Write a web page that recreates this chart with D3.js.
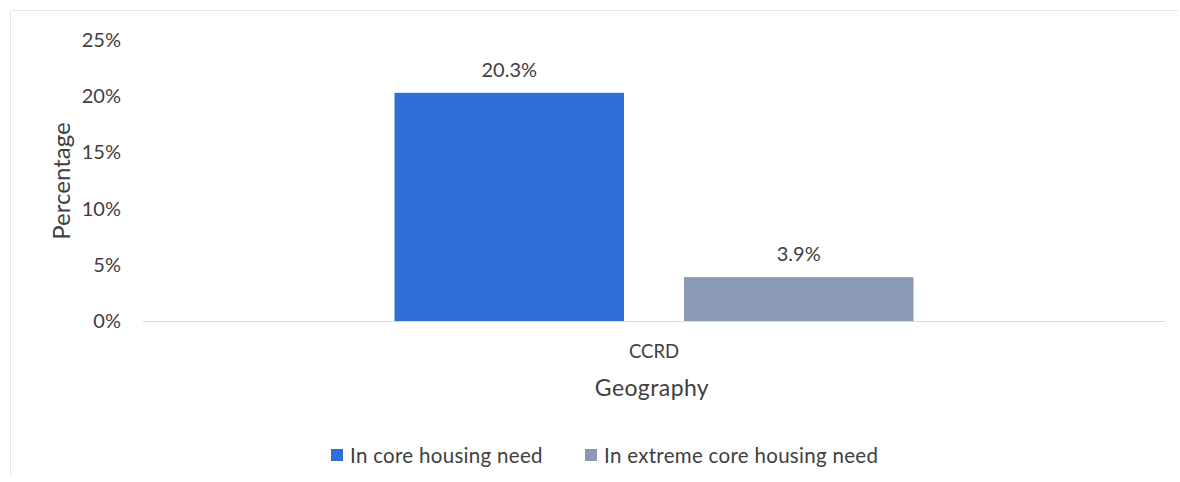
<!DOCTYPE html>
<html>
<head>
<meta charset="utf-8">
<script src="https://cdn.jsdelivr.net/npm/d3@7"></script>
<style>
  html, body { margin: 0; padding: 0; background: #fff; }
  svg { display: block; }
  text { font-family: Lato, "Open Sans", sans-serif; fill: #404040; }
</style>
</head>
<body>
<svg id="chart" width="1180" height="482"></svg>
<script>
// Chart data
const categories = ["CCRD"];
const seriesNames = ["In core housing need", "In extreme core housing need"];
const seriesValues = [[20.3], [3.9]];   // percent, one value per category
const seriesColors = ["#2f6fd9", "#8a9ab4"];
const yTicks = [0, 5, 10, 15, 20, 25];

const svg = d3.select("#chart");

// Faint outer frame
svg.append("path")
  .attr("d", "M10.5,476 V10.5 H1178")
  .attr("fill", "none")
  .attr("stroke", "#e6e6e6")
  .attr("stroke-width", 1);

const plotLeft = 143, plotRight = 1165, plotTop = 40, plotBottom = 321;

const x = d3.scaleBand()
  .domain(categories)
  .range([plotLeft, plotRight])
  .paddingInner(0)
  .paddingOuter(0.4846);

const xs = d3.scaleBand()
  .domain(seriesNames)
  .range([0, x.bandwidth()])
  .paddingInner(0.2073)
  .paddingOuter(0);

const y = d3.scaleLinear()
  .domain([0, 25])
  .range([plotBottom, plotTop]);

// Y axis labels (no line, no tick marks)
const yAxis = svg.append("g")
  .attr("transform", `translate(${plotLeft - 22},0)`)
  .call(d3.axisLeft(y).tickValues(yTicks).tickFormat(d => d + "%").tickSize(0).tickPadding(0));
yAxis.select(".domain").remove();
yAxis.selectAll("text")
  .attr("font-size", 20)
  .attr("font-family", "Lato, 'Open Sans', sans-serif")
  .attr("fill", "#404040");

// Baseline
svg.append("line")
  .attr("x1", plotLeft).attr("x2", plotRight)
  .attr("y1", y(0) + 0.5).attr("y2", y(0) + 0.5)
  .attr("stroke", "#d9d9d9")
  .attr("stroke-width", 1);

// Bars
const groups = svg.selectAll("g.cat")
  .data(categories)
  .join("g")
  .attr("class", "cat")
  .attr("transform", d => `translate(${x(d)},0)`);

seriesNames.forEach((name, si) => {
  groups.append("rect")
    .attr("x", xs(name))
    .attr("width", xs.bandwidth())
    .attr("y", (d, ci) => y(seriesValues[si][ci]))
    .attr("height", (d, ci) => y(0) - y(seriesValues[si][ci]))
    .attr("fill", seriesColors[si]);

  groups.append("text")
    .attr("x", xs(name) + xs.bandwidth() / 2)
    .attr("y", (d, ci) => y(seriesValues[si][ci]) - 16)
    .attr("text-anchor", "middle")
    .attr("font-size", 20)
    .text((d, ci) => seriesValues[si][ci].toFixed(1) + "%");
});

// Category label
svg.selectAll("text.cat-label")
  .data(categories)
  .join("text")
  .attr("class", "cat-label")
  .attr("x", d => x(d) + x.bandwidth() / 2)
  .attr("y", 358)
  .attr("text-anchor", "middle")
  .attr("font-size", 18.5)
  .text(d => d);

// Axis titles
svg.append("text")
  .attr("x", 652).attr("y", 396)
  .attr("text-anchor", "middle")
  .attr("font-size", 23)
  .attr("letter-spacing", 0.4)
  .text("Geography");

svg.append("text")
  .attr("transform", "translate(70,181) rotate(-90)")
  .attr("text-anchor", "middle")
  .attr("font-size", 24)
  .text("Percentage");

// Legend
const legendX = [331, 585];
seriesNames.forEach((name, i) => {
  const g = svg.append("g").attr("transform", `translate(${legendX[i]},449)`);
  g.append("rect").attr("width", 12).attr("height", 12).attr("fill", seriesColors[i]);
  g.append("text").attr("x", 19).attr("y", 14).attr("font-size", 20.5)
    .attr("letter-spacing", 0.3).text(name);
});
</script>
</body>
</html>
